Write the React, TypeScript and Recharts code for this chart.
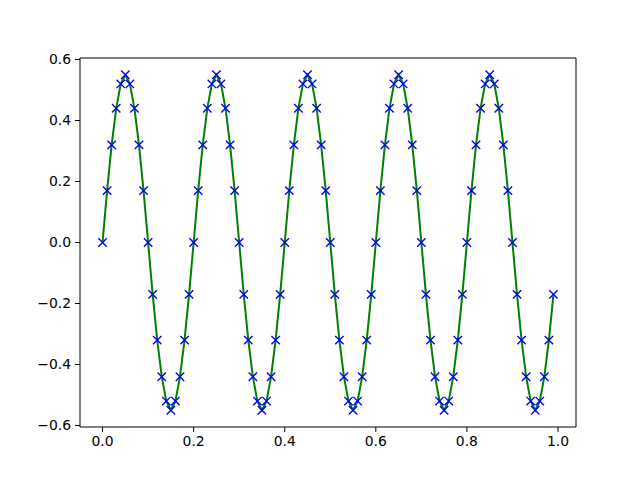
import { ComposedChart, Line, Scatter, XAxis, YAxis, ReferenceArea } from "recharts";

const xs = [
    0.0, 0.01, 0.02, 0.03, 0.04, 0.05, 0.06, 0.07, 0.08, 0.09,
    0.1, 0.11, 0.12, 0.13, 0.14, 0.15, 0.16, 0.17, 0.18, 0.19,
    0.2, 0.21, 0.22, 0.23, 0.24, 0.25, 0.26, 0.27, 0.28, 0.29,
    0.3, 0.31, 0.32, 0.33, 0.34, 0.35, 0.36, 0.37, 0.38, 0.39,
    0.4, 0.41, 0.42, 0.43, 0.44, 0.45, 0.46, 0.47, 0.48, 0.49,
    0.5, 0.51, 0.52, 0.53, 0.54, 0.55, 0.56, 0.57, 0.58, 0.59,
    0.6, 0.61, 0.62, 0.63, 0.64, 0.65, 0.66, 0.67, 0.68, 0.69,
    0.7, 0.71, 0.72, 0.73, 0.74, 0.75, 0.76, 0.77, 0.78, 0.79,
    0.8, 0.81, 0.82, 0.83, 0.84, 0.85, 0.86, 0.87, 0.88, 0.89,
    0.9, 0.91, 0.92, 0.93, 0.94, 0.95, 0.96, 0.97, 0.98, 0.99,
];

const ys = [
    0, 0.17, 0.32, 0.44, 0.52, 0.55, 0.52, 0.44, 0.32, 0.17,
    0, -0.17, -0.32, -0.44, -0.52, -0.55, -0.52, -0.44, -0.32, -0.17,
    0, 0.17, 0.32, 0.44, 0.52, 0.55, 0.52, 0.44, 0.32, 0.17,
    0, -0.17, -0.32, -0.44, -0.52, -0.55, -0.52, -0.44, -0.32, -0.17,
    0, 0.17, 0.32, 0.44, 0.52, 0.55, 0.52, 0.44, 0.32, 0.17,
    0, -0.17, -0.32, -0.44, -0.52, -0.55, -0.52, -0.44, -0.32, -0.17,
    0, 0.17, 0.32, 0.44, 0.52, 0.55, 0.52, 0.44, 0.32, 0.17,
    0, -0.17, -0.32, -0.44, -0.52, -0.55, -0.52, -0.44, -0.32, -0.17,
    0, 0.17, 0.32, 0.44, 0.52, 0.55, 0.52, 0.44, 0.32, 0.17,
    0, -0.17, -0.32, -0.44, -0.52, -0.55, -0.52, -0.44, -0.32, -0.17,
];

const xTicks = [0.0, 0.2, 0.4, 0.6, 0.8, 1.0];
const yTicks = [-0.6, -0.4, -0.2, 0.0, 0.2, 0.4, 0.6];

const X_DOMAIN: [number, number] = [-0.0495, 1.0395];
const Y_DOMAIN: [number, number] = [-0.605, 0.605];

const data = xs.map((x, i) => ({ x, y: ys[i] }));

const fmt = (v: number) => v.toFixed(1).replace("-", "\u2212");

const tickStyle = { fontSize: 13.9, fill: "#000", fontFamily: "DejaVu Sans" };

function Cross(props: any) {
    const { cx, cy } = props;
    if (cx == null || cy == null) return null;
    const r = 4.2;
    return (
        <path
            d={`M${cx - r},${cy - r}L${cx + r},${cy + r}M${cx - r},${cy + r}L${cx + r},${cy - r}`}
            stroke="#0000ff"
            strokeWidth={1.4}
            fill="none"
        />
    );
}

export default function App() {
    return (
        <div style={{ position: "absolute", left: 0, top: 0, background: "#fff" }}>
            <ComposedChart
                width={640}
                height={480}
                data={data}
                margin={{ top: 58, right: 64, left: 0, bottom: 0 }}
            >
                <XAxis
                    dataKey="x"
                    type="number"
                    domain={X_DOMAIN}
                    ticks={xTicks}
                    tickFormatter={fmt}
                    allowDataOverflow
                    height={53}
                    tick={tickStyle}
                    tickSize={5}
                    tickMargin={4}
                    axisLine={false}
                    tickLine={{ stroke: "#000", strokeWidth: 1 }}
                />
                <YAxis
                    type="number"
                    domain={Y_DOMAIN}
                    ticks={yTicks}
                    tickFormatter={fmt}
                    allowDataOverflow
                    width={80}
                    tick={tickStyle}
                    tickSize={5}
                    tickMargin={4}
                    axisLine={false}
                    tickLine={{ stroke: "#000", strokeWidth: 1 }}
                />
                <ReferenceArea
                    x1={X_DOMAIN[0]}
                    x2={X_DOMAIN[1]}
                    y1={Y_DOMAIN[0]}
                    y2={Y_DOMAIN[1]}
                    fill="none"
                    stroke="#000"
                    strokeWidth={1}
                    fillOpacity={0}
                />
                <Line
                    dataKey="y"
                    type="linear"
                    stroke="#008000"
                    strokeWidth={2}
                    dot={false}
                    activeDot={false}
                    isAnimationActive={false}
                />
                <Scatter dataKey="y" shape={Cross} isAnimationActive={false} />
            </ComposedChart>
        </div>
    );
}
